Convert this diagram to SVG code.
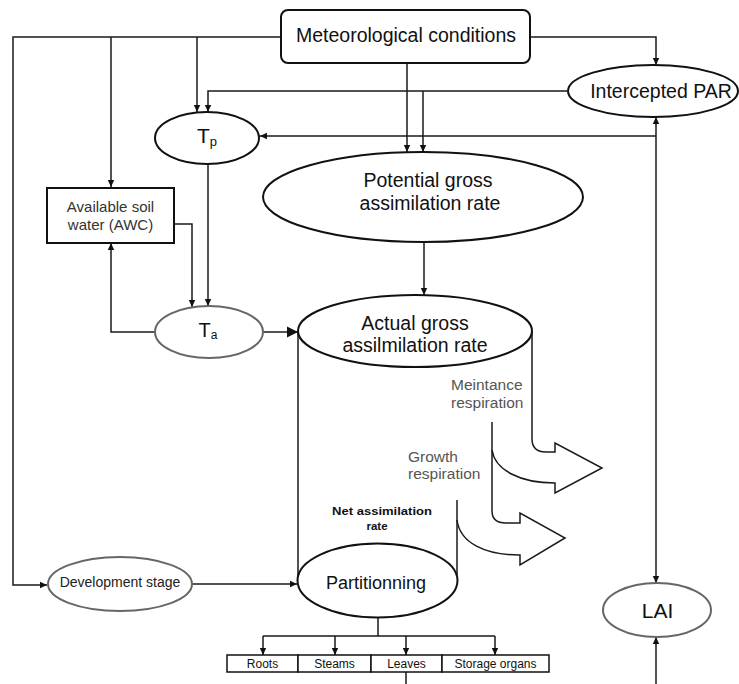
<svg xmlns="http://www.w3.org/2000/svg" width="739" height="684" viewBox="0 0 739 684">
<defs>
<marker id="ah" markerWidth="8" markerHeight="8" refX="7" refY="4" orient="auto" markerUnits="userSpaceOnUse"><path d="M0,0.8 L7,4 L0,7.2 z" fill="#111"/></marker>
<marker id="ahb" markerWidth="12" markerHeight="12" refX="11" refY="6" orient="auto" markerUnits="userSpaceOnUse"><path d="M0,0.5 L11,6 L0,11.5 z" fill="#111"/></marker>
<style>
.ln{fill:none;stroke:#1a1a1a;stroke-width:1.5}
.nd{fill:#fff;stroke:#111;stroke-width:2}
.gr{fill:#fff;stroke:#666;stroke-width:2}
.bx{fill:#fff;stroke:#111;stroke-width:1.5}
.t{font-family:"Liberation Sans",Arial,sans-serif;fill:#111;text-anchor:middle}
.tl{font-family:"Liberation Sans",Arial,sans-serif;fill:#555;font-size:15.5px}
.big{font-size:19.5px}
.sm{font-size:12px}
</style>
</defs>
<rect width="739" height="684" fill="#fff"/>
<g id="connectors">
<path class="ln" d="M281,37 H13 V585 H47" marker-end="url(#ah)"/>
<path class="ln" d="M111,37 V187" marker-end="url(#ah)"/>
<path class="ln" d="M197,37 V112" marker-end="url(#ah)"/>
<path class="ln" d="M530,37 H656 V65" marker-end="url(#ah)"/>
<path class="ln" d="M407,63 V152" marker-end="url(#ah)"/>
<path class="ln" d="M567,91 H208 V112" marker-end="url(#ah)"/>
<path class="ln" d="M423,91 V152" marker-end="url(#ah)"/>
<path class="ln" d="M656,300 V117" marker-end="url(#ah)"/>
<path class="ln" d="M656,300 V583" marker-end="url(#ah)"/>
<path class="ln" d="M656,136 H260" marker-end="url(#ah)"/>
<path class="ln" d="M656,684 V637" marker-end="url(#ah)"/>
<path class="ln" d="M174,224 H192 V307" marker-end="url(#ah)"/>
<path class="ln" d="M208,164 V306" marker-end="url(#ah)"/>
<path class="ln" d="M155,332 H111 V243" marker-end="url(#ah)"/>
<path class="ln" d="M263,332 H298" marker-end="url(#ahb)"/>
<path class="ln" d="M424,242 V295" marker-end="url(#ah)"/>
<path class="ln" d="M192,584 H297" marker-end="url(#ah)"/>
<path class="ln" d="M378,617 V636 M263,636 H495"/>
<path class="ln" d="M263,636 V655" marker-end="url(#ah)"/>
<path class="ln" d="M335,636 V655" marker-end="url(#ah)"/>
<path class="ln" d="M406,636 V655" marker-end="url(#ah)"/>
<path class="ln" d="M495,636 V655" marker-end="url(#ah)"/>
<path class="ln" d="M406,672 V684"/>
</g>
<g id="meteorological">
<rect class="nd" x="281" y="10" width="249" height="53" rx="7"/>
<text class="t big" x="406" y="42">Meteorological conditions</text>
</g>
<g id="intercepted-par">
<ellipse class="nd" cx="653" cy="91" rx="85" ry="26"/>
<text class="t big" x="661" y="98">Intercepted PAR</text>
</g>
<g id="tp">
<ellipse class="nd" cx="207" cy="138" rx="52" ry="26"/>
<text class="t" x="207" y="143" style="font-size:21px">T<tspan dy="3" style="font-size:13px">p</tspan></text>
</g>
<g id="awc">
<rect x="47" y="188" width="127" height="55" fill="#fff" stroke="#111" stroke-width="2"/>
<text class="t" x="110.5" y="212" style="font-size:15px;fill:#333">Available soil</text>
<text class="t" x="110.5" y="230" style="font-size:15px;fill:#333">water (AWC)</text>
</g>
<g id="potential">
<ellipse class="nd" cx="423" cy="197" rx="160" ry="45"/>
<text class="t big" x="428" y="187">Potential gross</text>
<text class="t big" x="430" y="210">assimilation rate</text>
</g>
<g id="ta">
<ellipse class="gr" cx="209" cy="332" rx="54" ry="26"/>
<text class="t" x="208" y="337" style="font-size:20px">T<tspan dy="2" style="font-size:12px">a</tspan></text>
</g>
<g id="actual-gross">
<path class="ln" d="M298,332 V582"/>
<path class="ln" d="M532,332 V439 Q532,452 546,452 H555 V443 L602,468 L555,493 V483 C520,483 495,470 492,450"/>
<path class="ln" d="M492,422 V511 Q492,523 506,523 H520 V513 L565,538 L520,565 V555 C485,555 460,543 457,520"/>
<path class="ln" d="M457,500 V581"/>
<ellipse class="nd" cx="415" cy="331" rx="117" ry="36"/>
<text class="t big" x="415" y="330">Actual gross</text>
<text class="t big" x="415" y="352">assilmilation rate</text>
<text class="tl" x="451" y="390">Meintance</text>
<text class="tl" x="451" y="408">respiration</text>
<text class="tl" x="408" y="462">Growth</text>
<text class="tl" x="408" y="479">respiration</text>
<text class="t" x="382" y="515" style="font-size:11.5px;font-weight:bold" textLength="100" lengthAdjust="spacingAndGlyphs">Net assimilation</text>
<text class="t" x="377" y="530" style="font-size:11.5px;font-weight:bold">rate</text>
</g>
<g id="partitioning">
<ellipse class="nd" cx="377.5" cy="580.5" rx="80" ry="37"/>
<text class="t" x="376" y="589" style="font-size:18px">Partitionning</text>
</g>
<g id="development-stage">
<ellipse class="gr" cx="120" cy="584" rx="72" ry="27"/>
<text class="t" x="120" y="587" style="font-size:14px;fill:#222">Development stage</text>
</g>
<g id="lai">
<ellipse class="gr" cx="657" cy="610" rx="54" ry="27"/>
<text class="t" x="657.5" y="618" style="font-size:21px">LAI</text>
</g>
<g id="roots"><rect class="bx" x="227" y="655" width="71" height="17"/><text class="t sm" x="262.5" y="668">Roots</text></g>
<g id="steams"><rect class="bx" x="298" y="655" width="73" height="17"/><text class="t sm" x="334.5" y="668">Steams</text></g>
<g id="leaves"><rect class="bx" x="371" y="655" width="71" height="17"/><text class="t sm" x="406.5" y="668">Leaves</text></g>
<g id="storage-organs"><rect class="bx" x="442" y="655" width="107" height="17"/><text class="t sm" x="495.5" y="668">Storage organs</text></g>
</svg>
